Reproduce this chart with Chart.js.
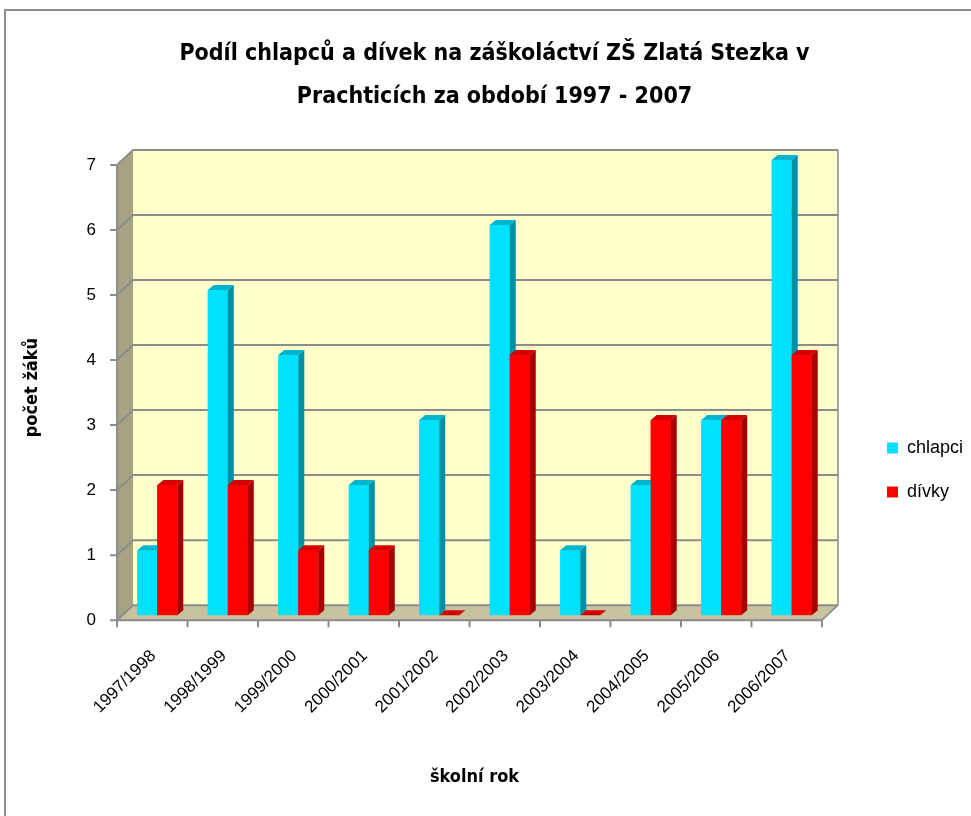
<!DOCTYPE html>
<html>
<head>
<meta charset="utf-8">
<script src="https://cdn.jsdelivr.net/npm/chart.js@4.4.1/dist/chart.umd.min.js"></script>
<style>
  html, body { margin: 0; padding: 0; background: #fff; }
  #wrap { position: relative; width: 971px; height: 816px; overflow: hidden; }
  #frame { position: absolute; left: 4px; top: 9px; width: 1100px; height: 1000px; border: 2px solid #8e8e8e; }
  canvas { position: absolute; left: 0; top: 0; }
</style>
</head>
<body>
<div id="wrap">
  <div id="frame"></div>
  <canvas id="zakyChart" width="971" height="816"></canvas>
</div>
<script>
const skolniRoky = ['1997/1998', '1998/1999', '1999/2000', '2000/2001', '2001/2002',
                    '2002/2003', '2003/2004', '2004/2005', '2005/2006', '2006/2007'];
const chlapci = [1, 5, 4, 2, 3, 6, 1, 2, 3, 7];
const divky = [2, 2, 1, 1, 0, 4, 0, 3, 3, 4];
const yMax = 7;

const FONT = "'Liberation Sans Narrow', 'DejaVu Sans Condensed', 'Liberation Sans', sans-serif";
const FONT_REG = "'Liberation Sans', 'Noto Sans', sans-serif";

// depth offsets of the fake 3D box, relative to the plane of the bars
const BACK = { dx: 11, dy: -10 };
const FRONT = { dx: -5, dy: 5 };
const BAR_D = { dx: 6, dy: -5 };
const faces = [
  { front: '#00E0FF', side: '#0090A4', top: '#00B4CE' },
  { front: '#FF0000', side: '#A80000', top: '#D40000' }
];

function poly(ctx, pts) {
  ctx.beginPath();
  ctx.moveTo(pts[0][0], pts[0][1]);
  for (let i = 1; i < pts.length; i++) ctx.lineTo(pts[i][0], pts[i][1]);
  ctx.closePath();
  ctx.fill();
}

const scene3d = {
  id: 'scene3d',
  afterLayout(chart) {
    // push legend and title to where excel had them
    const lg = chart.legend;
    lg.left += 34; lg.right += 34;
    lg.top += 64; lg.bottom += 64;
    const tb = chart.titleBlock;
    tb.left += 16; tb.right += 16;
  },
  beforeDatasetsDraw(chart) {
    const { ctx, chartArea: a, scales: { x, y } } = chart;
    const y0 = y.getPixelForValue(0), yT = y.getPixelForValue(yMax);
    const fl = a.left + FRONT.dx, bl = a.left + BACK.dx;
    const fr = a.right + FRONT.dx, br = a.right + BACK.dx;
    ctx.save();
    // walls + floor
    ctx.fillStyle = '#FFFFCC';
    ctx.fillRect(bl, yT + BACK.dy, br - bl, y0 - yT);
    ctx.fillStyle = '#A6A383';
    poly(ctx, [[fl, yT + FRONT.dy], [bl, yT + BACK.dy], [bl, y0 + BACK.dy], [fl, y0 + FRONT.dy]]);
    ctx.fillStyle = '#C6C39F';
    poly(ctx, [[fl, y0 + FRONT.dy], [bl, y0 + BACK.dy], [br, y0 + BACK.dy], [fr, y0 + FRONT.dy]]);
    // gridlines on side wall and back wall
    ctx.strokeStyle = '#8C8C8C';
    ctx.lineWidth = 2;
    y.ticks.forEach(t => {
      const py = y.getPixelForValue(t.value);
      ctx.beginPath();
      ctx.moveTo(fl, py + FRONT.dy);
      ctx.lineTo(bl, py + BACK.dy);
      ctx.lineTo(br, py + BACK.dy);
      ctx.stroke();
    });
    ctx.lineWidth = 1.5;
    ctx.beginPath();
    ctx.moveTo(br, yT + BACK.dy);
    ctx.lineTo(br, y0 + BACK.dy);
    ctx.lineTo(fr, y0 + FRONT.dy);
    ctx.stroke();
    ctx.restore();
  },
  afterDatasetsDraw(chart) {
    const { ctx, chartArea: a, scales: { x, y } } = chart;
    const metas = [chart.getDatasetMeta(0), chart.getDatasetMeta(1)];
    ctx.save();
    for (let i = 0; i < skolniRoky.length; i++) {
      metas.forEach((m, k) => {
        const p = m.data[i].getProps(['x', 'y', 'base', 'width'], true);
        const l = p.x - p.width / 2, r = p.x + p.width / 2;
        const f = faces[k];
        ctx.fillStyle = f.front;
        ctx.fillRect(l, p.y, p.width, p.base - p.y);
        ctx.fillStyle = f.side;
        poly(ctx, [[r, p.y], [r + BAR_D.dx, p.y + BAR_D.dy], [r + BAR_D.dx, p.base + BAR_D.dy], [r, p.base]]);
        ctx.fillStyle = f.top;
        poly(ctx, [[l, p.y], [l + BAR_D.dx, p.y + BAR_D.dy], [r + BAR_D.dx, p.y + BAR_D.dy], [r, p.y]]);
      });
    }
    // front axes with tick marks
    const y0 = y.getPixelForValue(0) + FRONT.dy, yT = y.getPixelForValue(yMax) + FRONT.dy;
    const fl = a.left + FRONT.dx, fr = a.right + FRONT.dx;
    ctx.strokeStyle = '#8C8C8C';
    ctx.lineWidth = 2;
    ctx.beginPath();
    ctx.moveTo(fl, yT); ctx.lineTo(fl, y0); ctx.lineTo(fr, y0);
    y.ticks.forEach(t => {
      const py = y.getPixelForValue(t.value) + FRONT.dy;
      ctx.moveTo(fl - 7, py); ctx.lineTo(fl, py);
    });
    for (let i = 0; i <= skolniRoky.length; i++) {
      const px = x.getPixelForValue(i - 0.5) + FRONT.dx;
      ctx.moveTo(px, y0); ctx.lineTo(px, y0 + 7);
    }
    ctx.stroke();
    ctx.restore();
  }
};

const ctx = document.getElementById('zakyChart').getContext('2d');
new Chart(ctx, {
  type: 'bar',
  data: {
    labels: skolniRoky,
    datasets: [
      { label: 'chlapci', data: chlapci, backgroundColor: faces[0].front, borderWidth: 0 },
      { label: 'dívky', data: divky, backgroundColor: faces[1].front, borderWidth: 0 }
    ]
  },
  options: {
    responsive: false,
    animation: false,
    datasets: { bar: { categoryPercentage: 0.567, barPercentage: 1 } },
    layout: { padding: { top: 20, left: 18, right: 32, bottom: 24 } },
    plugins: {
      title: {
        display: true,
        text: ['Podíl chlapců a dívek na záškoláctví ZŠ Zlatá Stezka v', 'Prachticích za období 1997 - 2007'],
        color: '#000',
        font: { family: FONT, size: 23, weight: 'bold', lineHeight: 1.87 },
        padding: { top: 13, bottom: 41 }
      },
      legend: {
        position: 'right',
        labels: {
          boxWidth: 11, boxHeight: 11, padding: 26, color: '#000',
          font: { family: FONT_REG, size: 18 }
        }
      },
      tooltip: { enabled: false }
    },
    scales: {
      x: {
        grid: { display: false },
        border: { display: false },
        ticks: { minRotation: 45, maxRotation: 45, color: '#000', padding: 23, labelOffset: -4, font: { family: FONT_REG, size: 17 } },
        title: { display: true, text: 'školní rok', color: '#000', font: { family: FONT, size: 18, weight: 'bold' }, padding: { top: 26 } }
      },
      y: {
        min: 0,
        max: yMax,
        grid: { display: false },
        border: { display: false },
        ticks: { stepSize: 1, color: '#000', padding: 18, labelOffset: 5, font: { family: FONT_REG, size: 17 } },
        title: { display: true, text: 'počet žáků', color: '#000', font: { family: FONT, size: 18, weight: 'bold' }, padding: { bottom: 25 } }
      }
    }
  },
  plugins: [scene3d]
});
</script>
</body>
</html>
